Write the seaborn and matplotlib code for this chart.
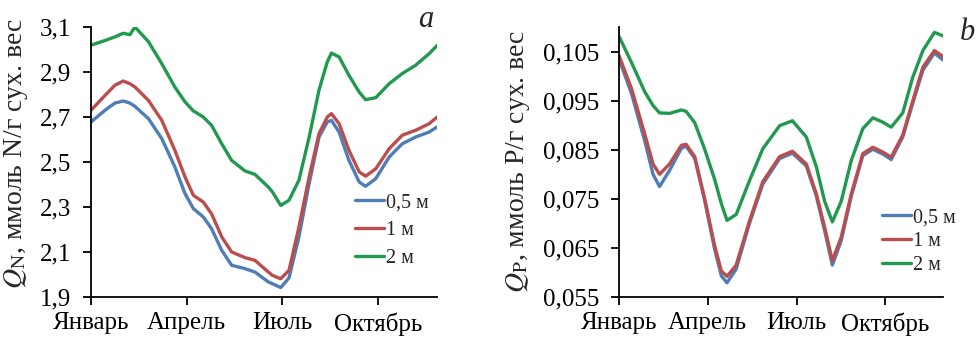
import matplotlib
matplotlib.use("Agg")
import pandas as pd
import matplotlib.pyplot as plt
import seaborn as sns
from matplotlib.lines import Line2D
from matplotlib.ticker import FuncFormatter

# --- данные (месяцы от начала года) ---
months_n = [0, 0.44, 0.75, 1.01, 1.22, 1.38, 1.80, 2.22, 2.63, 2.95, 3.21, 3.52,
            3.78, 4.10, 4.41, 4.83, 5.14, 5.56, 5.69, 5.95, 6.21, 6.52, 6.84, 7.15,
            7.41, 7.54, 7.78, 8.09, 8.41, 8.61, 8.93, 9.35, 9.76, 10.18, 10.60, 10.86]
qn_05 = [2.678, 2.730, 2.762, 2.771, 2.762, 2.747, 2.693, 2.604, 2.478, 2.359, 2.293, 2.256,
         2.204, 2.107, 2.041, 2.026, 2.011, 1.967, 1.959, 1.942, 1.985, 2.167, 2.404, 2.611,
         2.678, 2.685, 2.633, 2.507, 2.411, 2.392, 2.426, 2.522, 2.581, 2.611, 2.633, 2.656]
qn_1 = [2.730, 2.796, 2.841, 2.860, 2.848, 2.833, 2.774, 2.685, 2.552, 2.433, 2.352, 2.322,
        2.270, 2.167, 2.100, 2.075, 2.063, 2.011, 1.996, 1.981, 2.019, 2.211, 2.433, 2.626,
        2.700, 2.715, 2.670, 2.552, 2.456, 2.437, 2.470, 2.559, 2.619, 2.641, 2.670, 2.700]
qn_2 = [3.019, 3.040, 3.056, 3.072, 3.066, 3.100, 3.035, 2.937, 2.833, 2.767, 2.727, 2.700,
        2.663, 2.581, 2.507, 2.460, 2.445, 2.389, 2.367, 2.307, 2.330, 2.419, 2.610, 2.820,
        2.945, 2.984, 2.967, 2.885, 2.811, 2.777, 2.786, 2.848, 2.893, 2.930, 2.981, 3.019]

months_p = [0, 0.42, 0.87, 1.15, 1.37, 1.71, 2.11, 2.27, 2.56, 2.89, 3.23, 3.46, 3.65,
            3.96, 4.41, 4.86, 5.43, 5.86, 6.33, 6.67, 6.95, 7.21, 7.51, 7.85, 8.24,
            8.58, 8.92, 9.20, 9.59, 9.93, 10.27, 10.66, 10.95]
qp_05 = [0.1035, 0.0965, 0.0868, 0.0800, 0.0775, 0.0808, 0.0853, 0.0857, 0.0832, 0.0748, 0.0648,
         0.0593, 0.0579, 0.0607, 0.0700, 0.0780, 0.0832, 0.0843, 0.0817, 0.0755, 0.0685, 0.0615,
         0.0665, 0.0755, 0.0838, 0.0851, 0.0841, 0.0830, 0.0876, 0.0945, 0.1012, 0.1047, 0.1033]
qp_1 = [0.1042, 0.0975, 0.0882, 0.0821, 0.0800, 0.0821, 0.0859, 0.0861, 0.0836, 0.0752, 0.0655,
        0.0603, 0.0592, 0.0615, 0.0705, 0.0785, 0.0836, 0.0847, 0.0821, 0.0760, 0.0692, 0.0624,
        0.0672, 0.0760, 0.0842, 0.0855, 0.0845, 0.0835, 0.0880, 0.0950, 0.1018, 0.1052, 0.1040]
qp_2 = [0.1081, 0.1028, 0.0968, 0.0940, 0.0925, 0.0924, 0.0931, 0.0928, 0.0905, 0.0852, 0.0790,
        0.0740, 0.0706, 0.0718, 0.0787, 0.0852, 0.0899, 0.0909, 0.0876, 0.0815, 0.0745, 0.0703,
        0.0745, 0.0828, 0.0893, 0.0915, 0.0906, 0.0896, 0.0925, 0.0998, 0.1052, 0.1089, 0.1082]

depths = ["0,5 м", "1 м", "2 м"]
colors = ["#4F7DB8", "#BB4E4C", "#21994F"]
tick_months = [0, 3, 6, 9]
tick_names = ["Январь", "Апрель", "Июль", "Октябрь"]

sns.set_theme(style="ticks")
plt.rcParams["font.family"] = ["Liberation Serif", "DejaVu Serif"]
plt.rcParams["mathtext.fontset"] = "stix"


def long_df(x, series):
    parts = [pd.DataFrame({"month": x, "value": s, "depth": d}) for d, s in zip(depths, series)]
    return pd.concat(parts, ignore_index=True)


fig = plt.figure(figsize=(9.78, 3.41), dpi=100)
W, H = 978, 341

panels = [
    dict(rect=[91 / W, 44 / H, 346 / W, 270 / H], x=months_n, series=[qn_05, qn_1, qn_2],
         xmax=10.85, ylim=(1.9, 3.1), yticks=[1.9, 2.1, 2.3, 2.5, 2.7, 2.9, 3.1], fmt="{:.1f}",
         ylabel=r"$Q_{\mathrm{N}}$, ммоль N/г сух. вес", labelx=-0.175, labely=0.53,
         leg=(355 / W, 1 - 193 / H), legspace=0.45, letter="a", letterpos=(426 / W, 1 - 27 / H)),
    dict(rect=[619 / W, 44 / H, 324 / W, 270 / H], x=months_p, series=[qp_05, qp_1, qp_2],
         xmax=10.95, ylim=(0.055, 0.11), yticks=[0.055, 0.065, 0.075, 0.085, 0.095, 0.105],
         fmt="{:.3f}",
         ylabel=r"$Q_{\mathrm{P}}$, ммоль P/г сух. вес", labelx=-0.27, labely=0.5,
         leg=(882 / W, 1 - 208 / H), legspace=0.25, letter="b", letterpos=(967 / W, 1 - 40 / H)),
]

for p in panels:
    ax = fig.add_axes(p["rect"])
    df = long_df(p["x"], p["series"])
    sns.lineplot(data=df, x="month", y="value", hue="depth", palette=colors,
                 linewidth=2.4, estimator=None, legend=False, ax=ax)
    for ln in ax.lines:
        ln.set_solid_joinstyle("round")
    ax.set_xlim(0, p["xmax"])
    ax.set_ylim(*p["ylim"])
    ax.set_xticks(tick_months)
    ax.set_xticklabels(tick_names)
    ax.set_yticks(p["yticks"])
    fmt = p["fmt"]
    ax.yaxis.set_major_formatter(FuncFormatter(lambda v, pos, f=fmt: f.format(v).replace(".", ",")))
    ax.set_xlabel("")
    ax.set_ylabel(p["ylabel"], fontsize=20)
    ax.yaxis.set_label_coords(p["labelx"], p["labely"])
    sns.despine(ax=ax)
    for s in ["left", "bottom"]:
        ax.spines[s].set_color("black")
        ax.spines[s].set_linewidth(1.3)
    ax.tick_params(axis="both", direction="out", length=6, width=1.3, color="black",
                   labelsize=18, labelcolor="black", bottom=True, left=True)
    ax.tick_params(axis="x", pad=5)
    ax.tick_params(axis="y", pad=8)
    ax.grid(False)

    handles = [Line2D([], [], color=c, lw=2.4) for c in colors]
    ax.legend(handles, depths, loc="upper left", bbox_to_anchor=p["leg"],
              bbox_transform=fig.transFigure, frameon=False, fontsize=14.5,
              handlelength=1.45, handletextpad=0.1, labelspacing=p["legspace"],
              borderpad=0, borderaxespad=0)

    fig.text(p["letterpos"][0], p["letterpos"][1], p["letter"], fontsize=22,
             style="italic", ha="center", va="baseline")

fig.savefig("out.png", dpi=100)
